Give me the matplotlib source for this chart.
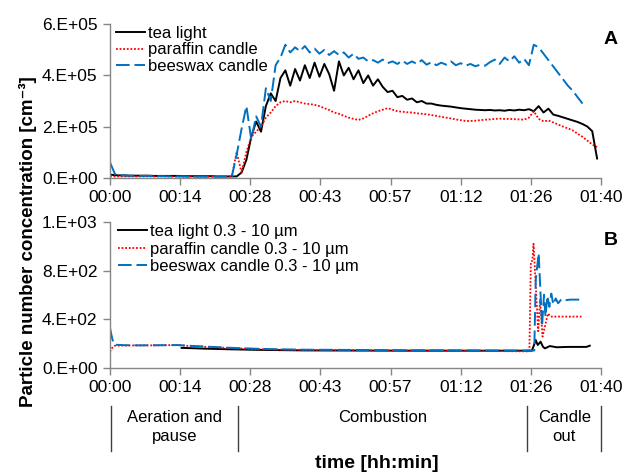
"""
Particle number concentration during candle burning experiments.
Panel A: total particle number, panel B: particles 0.3 - 10 um.
"""

import numpy as np
import matplotlib
matplotlib.use("Agg")
import matplotlib.pyplot as plt
import matplotlib.transforms as mtransforms

plt.rcParams['font.family'] = ['Liberation Sans', 'DejaVu Sans']

# ---------------------------------------------------------------------------
# data (minutes since start)
# ---------------------------------------------------------------------------
TIME_LABELS = ["00:00", "00:14", "00:28", "00:43", "00:57", "01:12", "01:26", "01:40"]
TICK_STEP_MIN = 14.4    # 0.01 day

# panel A, values in 1e5 cm-3, one value per minute
top_time_tea = list(range(0, 101))
top_tea = [0.12, 0.10, 0.09, 0.09, 0.08, 0.08, 0.08, 0.08, 0.08, 0.07,
           0.07, 0.07, 0.07, 0.07, 0.07, 0.06, 0.06, 0.06, 0.06, 0.06,
           0.06, 0.06, 0.05, 0.05, 0.05, 0.05, 0.05, 0.20, 0.70, 1.60,
           2.20, 1.80, 2.80, 3.30, 3.00, 3.90, 4.20, 3.60, 4.25, 3.80,
           4.40, 3.90, 4.50, 3.95, 4.45, 4.05, 3.40, 4.55, 4.00, 4.30,
           3.85, 4.20, 3.70, 4.00, 3.60, 3.85, 3.55, 3.35, 3.40, 3.15,
           3.20, 3.05, 3.10, 2.95, 3.00, 2.90, 2.90, 2.85, 2.82, 2.80,
           2.78, 2.75, 2.72, 2.70, 2.68, 2.66, 2.65, 2.64, 2.65, 2.63,
           2.64, 2.62, 2.65, 2.63, 2.66, 2.64, 2.68, 2.60, 2.80, 2.55,
           2.70, 2.47, 2.42, 2.36, 2.30, 2.24, 2.18, 2.10, 2.00, 1.82,
           0.75]

top_time_paraffin = list(range(0, 101))
top_paraffin = [0.06, 0.05, 0.05, 0.05, 0.05, 0.05, 0.05, 0.05, 0.05, 0.05,
                0.05, 0.05, 0.05, 0.04, 0.04, 0.04, 0.04, 0.04, 0.04, 0.04,
                0.04, 0.04, 0.04, 0.04, 0.04, 0.05, 1.00, 0.20, 1.00, 1.60,
                1.80, 2.00, 2.35, 2.55, 2.80, 2.95, 3.00, 2.95, 3.00, 2.95,
                2.90, 2.88, 2.85, 2.80, 2.72, 2.65, 2.55, 2.50, 2.42, 2.35,
                2.30, 2.26, 2.32, 2.42, 2.52, 2.60, 2.66, 2.72, 2.66, 2.60,
                2.58, 2.56, 2.55, 2.52, 2.50, 2.48, 2.45, 2.42, 2.38, 2.35,
                2.32, 2.28, 2.25, 2.22, 2.22, 2.23, 2.25, 2.27, 2.28, 2.30,
                2.31, 2.30, 2.30, 2.29, 2.28, 2.27, 2.35, 2.60, 2.30, 2.20,
                2.24, 2.16, 2.08, 2.00, 1.93, 1.85, 1.72, 1.60, 1.45, 1.30,
                1.20]

top_time_beeswax = list(range(0, 98))
top_beeswax = [0.60, 0.15, 0.10, 0.09, 0.08, 0.08, 0.07, 0.07, 0.07, 0.06,
               0.06, 0.06, 0.05, 0.05, 0.05, 0.05, 0.04, 0.04, 0.04, 0.04,
               0.04, 0.04, 0.04, 0.04, 0.04, 0.04, 0.90, 1.90, 2.80, 1.50,
               2.40, 2.00, 3.50, 3.00, 4.40, 4.70, 5.20, 4.90, 5.10, 4.95,
               5.15, 4.90, 5.05, 4.85, 5.00, 4.80, 4.95, 4.80, 4.90, 4.70,
               4.85, 4.65, 4.70, 4.55, 4.60, 4.50, 4.62, 4.48, 4.55, 4.45,
               4.58, 4.45, 4.55, 4.45, 4.60, 4.42, 4.52, 4.40, 4.50, 4.42,
               4.55, 4.40, 4.48, 4.38, 4.45, 4.36, 4.42, 4.38, 4.52, 4.62,
               4.45, 4.70, 4.55, 4.75, 4.50, 4.65, 4.40, 5.20, 5.10, 4.85,
               4.60, 4.35, 4.10, 3.85, 3.60, 3.40, 3.15, 2.90]
TOP_UNIT = 1e5

# panel B, values in cm-3
bot_time_tea = [14.7, 20, 25, 30, 40, 50, 60, 70, 80, 86.6, 87.0, 87.4, 87.8,
                88.4, 88.9, 89.3, 90.3, 91.7, 94.0, 97.8, 98.5]
bot_tea = [162, 155, 150, 146, 141, 140, 139, 139, 139, 139, 180, 227, 186,
           213, 170, 158, 177, 167, 170, 170, 180]

bot_time_paraffin = [0, 0.4, 1, 3, 6, 10, 14, 16, 20, 25, 30, 35, 40, 50, 60,
                     70, 80, 86.1, 86.4, 86.7, 86.95, 87.9, 88.3, 88.8, 89.9,
                     90.5, 96.8]
bot_paraffin = [130, 160, 180, 182, 182, 183, 186, 178, 170, 160, 152, 148,
                145, 143, 140, 138, 135, 133, 873, 880, 1020, 300, 560, 255,
                445, 420, 420]

bot_time_beeswax = [0, 0.5, 1, 3, 6, 10, 14, 16, 20, 25, 30, 35, 40, 50, 60,
                    70, 80, 87.1, 87.4, 88.0, 88.7, 89.1, 89.4, 89.8, 90.2,
                    90.6, 91.0, 91.5, 92.0, 92.7, 93.5, 94.5, 97.2]
bot_beeswax = [325, 230, 188, 184, 183, 184, 185, 180, 172, 162, 155, 150,
               147, 145, 143, 142, 140, 140, 722, 942, 340, 600, 420, 590,
               500, 610, 520, 570, 530, 565, 555, 560, 560]

# phases shown under the time axis
PHASE_BOUNDS = [0.3, 26.3, 85.6, 100.9]
PHASE_LABELS = ["Aeration and\npause", "Combustion", "Candle\nout"]

TOP_YTICKS = [0, 2e5, 4e5, 6e5]
TOP_YLABELS = ["0.E+00", "2.E+05", "4.E+05", "6.E+05"]
BOT_YTICKS = [0, 400, 800, 1200]
BOT_YLABELS = ["0.E+00", "4.E+02", "8.E+02", "1.E+03"]

BLACK = "#000000"
RED = "#FF0000"
BLUE = "#0070C0"
GREY = "#868686"


def style_axis(ax, yticks, ylabels):
    ax.spines["top"].set_visible(False)
    ax.spines["right"].set_visible(False)
    for s in ("left", "bottom"):
        ax.spines[s].set_color(GREY)
        ax.spines[s].set_linewidth(1.0)
    ax.set_xlim(0, TICK_STEP_MIN * (len(TIME_LABELS) - 1))
    ax.set_xticks(np.arange(len(TIME_LABELS)) * TICK_STEP_MIN)
    ax.set_xticklabels(TIME_LABELS)
    ax.set_ylim(yticks[0], yticks[-1])
    ax.set_yticks(yticks)
    ax.set_yticklabels(ylabels)
    ax.tick_params(axis="both", direction="out", length=5, width=1.0,
                   color=GREY, labelsize=12.5, pad=4)


def main() -> None:
    fig = plt.figure(figsize=(6.25, 4.73), dpi=100)
    ax_a = fig.add_axes([0.176, 0.6243, 0.7856, 0.3243])
    ax_b = fig.add_axes([0.176, 0.2230, 0.7856, 0.3076])

    # -----------------------------------------------------------------------
    # panel A
    # -----------------------------------------------------------------------
    ax_a.plot(top_time_tea, np.array(top_tea) * TOP_UNIT, color=BLACK,
              lw=1.4, label="tea light")
    ax_a.plot(top_time_paraffin, np.array(top_paraffin) * TOP_UNIT, color=RED,
              lw=1.3, ls=(0, (1, 1)), label="paraffin candle")
    ax_a.plot(top_time_beeswax, np.array(top_beeswax) * TOP_UNIT, color=BLUE,
              lw=1.4, dashes=(7, 2.5), label="beeswax candle")
    style_axis(ax_a, TOP_YTICKS, TOP_YLABELS)
    ax_a.legend(loc="upper left", bbox_to_anchor=(0.012, 0.99), frameon=False,
                fontsize=12, handlelength=1.75, handletextpad=0.15,
                labelspacing=0.09, borderaxespad=0, borderpad=0)
    ax_a.text(1.005, 0.90, "A", transform=ax_a.transAxes, fontsize=14,
              fontweight="bold", ha="left", va="center")

    # -----------------------------------------------------------------------
    # panel B
    # -----------------------------------------------------------------------
    ax_b.plot(bot_time_tea, bot_tea, color=BLACK, lw=1.4,
              label="tea light 0.3 - 10 µm")
    ax_b.plot(bot_time_paraffin, bot_paraffin, color=RED, lw=1.3,
              ls=(0, (1, 1)), label="paraffin candle 0.3 - 10 µm")
    ax_b.plot(bot_time_beeswax, bot_beeswax, color=BLUE, lw=1.4,
              dashes=(7, 2.5), label="beeswax candle 0.3 - 10 µm")
    style_axis(ax_b, BOT_YTICKS, BOT_YLABELS)
    ax_b.legend(loc="upper left", bbox_to_anchor=(0.016, 0.986), frameon=False,
                fontsize=12, handlelength=1.75, handletextpad=0.15,
                labelspacing=0.15, borderaxespad=0, borderpad=0)
    ax_b.text(1.005, 0.87, "B", transform=ax_b.transAxes, fontsize=14,
              fontweight="bold", ha="left", va="center")

    # phase brackets under panel B
    trans = mtransforms.blended_transform_factory(ax_b.transData, fig.transFigure)
    for xb in PHASE_BOUNDS:
        ax_b.plot([xb, xb], [0.1423, 0.0465], transform=trans, color="#404040",
                  lw=1.0, clip_on=False)
    for i, lab in enumerate(PHASE_LABELS):
        xm = (PHASE_BOUNDS[i] + PHASE_BOUNDS[i + 1]) / 2
        ax_b.text(xm, 0.133, lab, transform=trans, ha="center", va="top",
                  fontsize=12, linespacing=1.3)

    fig.text(0.603, 0.02, "time [hh:min]", ha="center", va="center",
             fontsize=14, fontweight="bold")
    fig.text(0.045, 0.49, "Particle number concentration [cm⁻³]",
             rotation=90, ha="center", va="center", fontsize=13.5,
             fontweight="bold")

    fig.savefig("out.png", dpi=100)


if __name__ == "__main__":
    main()
